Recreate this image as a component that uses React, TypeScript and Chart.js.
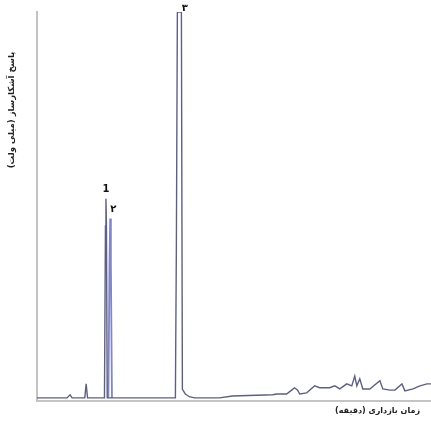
import React, { useEffect, useRef } from "react";
import { Chart, registerables } from "chart.js";

Chart.register(...registerables);

// Retention time (min) and detector response (mV) of the main trace
const traceTimes = [
  0, 3.05, 3.36, 3.56, 4.85, 4.99, 5.13, 6.85, 6.95, 7.0, 7.05, 7.13, 7.63, 8.14,
  14.05, 14.15, 14.25, 14.66, 14.76, 15.06, 15.47, 15.98, 16.49, 18.52, 19.85, 23.92,
  24.33, 25.34, 25.85, 26.16, 26.46, 26.67, 27.38, 28.19, 28.7, 29.72, 30.23, 30.74,
  31.45, 31.96, 32.26, 32.47, 32.77, 33.08, 33.79, 34.81, 35.11, 35.83, 36.34, 37.05,
  37.35, 38.17, 38.88, 39.59, 40,
];
const traceValues = [
  0.8, 0.8, 1.6, 0.8, 0.8, 4.4, 0.8, 0.8, 45, 52, 45, 0.8, 0.8, 0.8,
  0.8, 40, 100, 100, 3.0, 1.8, 1.1, 0.8, 0.8, 0.8, 1.3, 1.6,
  1.8, 1.8, 2.8, 3.4, 2.8, 1.8, 2.1, 3.9, 3.4, 3.4, 3.9, 3.1,
  4.4, 3.9, 6.4, 3.9, 5.7, 3.1, 3.1, 5.2, 3.1, 2.8, 2.8, 4.4,
  2.6, 3.1, 3.9, 4.4, 4.4,
];

// Second (blue) peak
const peak2Times = [7.25, 7.36, 7.43, 7.5, 7.61];
const peak2Values = [0.8, 35, 46.9, 35, 0.8];

// Peak labels
const peakLabels = ["1", "۲", "۳"];
const peakLabelTimes = [7.0, 7.75, 15.0];
const peakLabelValues = [52, 46.9, 100];

const xTitle = "زمان بازداری (دقیقه)";
const yTitle = "پاسخ آشکارساز (میلی ولت)";

const annotPlugin = {
  id: "annot",
  afterDraw(chart: any) {
    const { ctx, scales } = chart;
    const xs = scales.x;
    const ys = scales.y;
    ctx.save();
    ctx.fillStyle = "#111";
    ctx.font = "bold 10px 'DejaVu Sans'";
    ctx.textAlign = "center";
    ctx.textBaseline = "bottom";
    peakLabels.forEach((lab, i) => {
      const px = xs.getPixelForValue(peakLabelTimes[i]);
      const py = ys.getPixelForValue(peakLabelValues[i]);
      ctx.fillText(lab, px, Math.max(py - 4, 13));
    });
    ctx.font = "bold 8px 'DejaVu Sans'";
    ctx.fillStyle = "#222";
    ctx.textAlign = "right";
    ctx.textBaseline = "middle";
    ctx.fillText(xTitle, 420, 411);
    ctx.translate(12, 110);
    ctx.rotate(-Math.PI / 2);
    ctx.textAlign = "center";
    ctx.font = "bold 8.5px 'DejaVu Sans'";
    ctx.fillText(yTitle, 0, 0);
    ctx.restore();
  },
};

export default function App() {
  const ref = useRef<HTMLCanvasElement>(null);
  useEffect(() => {
    if (!ref.current) return;
    const chart = new Chart(ref.current, {
      type: "line",
      data: {
        datasets: [
          {
            data: traceTimes.map((t, i) => ({ x: t, y: traceValues[i] })),
            borderColor: "#5d6080",
            borderWidth: 1.4,
            pointRadius: 0,
            tension: 0,
          },
          {
            data: peak2Times.map((t, i) => ({ x: t, y: peak2Values[i] })),
            borderColor: "#8286c4",
            borderWidth: 1.8,
            pointRadius: 0,
            tension: 0,
          },
        ],
      },
      options: {
        animation: false,
        responsive: false,
        layout: { padding: { left: 37, top: 12, right: 0, bottom: 26 } },
        plugins: { legend: { display: false }, tooltip: { enabled: false } },
        scales: {
          x: {
            type: "linear",
            min: 0,
            max: 40,
            grid: { display: false, drawTicks: false },
            ticks: { display: false },
            border: { display: true, color: "#c4c4c4", width: 2 },
          },
          y: {
            min: 0,
            max: 100,
            grid: { display: false, drawTicks: false },
            ticks: { display: false },
            border: { display: true, color: "#c4c4c4", width: 2 },
          },
        },
      },
      plugins: [annotPlugin],
    });
    return () => chart.destroy();
  }, []);
  return (
    <div style={{ position: "absolute", left: 0, top: 0, width: 431, height: 427, background: "#fff" }}>
      <canvas ref={ref} width={431} height={427} />
    </div>
  );
}
